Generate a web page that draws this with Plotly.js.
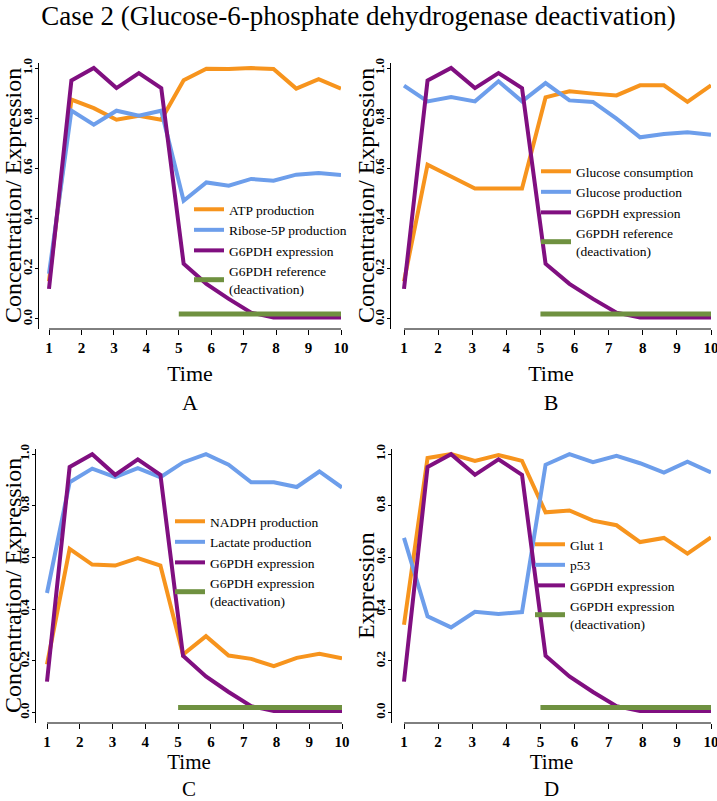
<!DOCTYPE html>
<html>
<head>
<meta charset="utf-8">
<script src="https://cdn.plot.ly/plotly-3.0.1.min.js"></script>
<style>html,body{margin:0;padding:0;background:#fff}#chart{width:717px;height:801px}</style>
</head>
<body>
<div id="chart"></div>
<script>
// ---- data ----
const time = [1, 1.69, 2.38, 3.08, 3.77, 4.46, 5.15, 5.85, 6.54, 7.23, 7.92, 8.62, 9.31, 10];
const g6pdh = [0.12, 0.95, 1.0, 0.92, 0.98, 0.92, 0.22, 0.14, 0.08, 0.025, 0.006, 0.006, 0.006, 0.006];
const refTime = [5, 10];
const refLevel = [0.02, 0.02];

const atp = [0.15, 0.874, 0.84, 0.794, 0.81, 0.794, 0.951, 0.997, 0.996, 1.0, 0.996, 0.918, 0.956, 0.918];
const ribose = [0.18, 0.83, 0.774, 0.83, 0.81, 0.83, 0.471, 0.544, 0.531, 0.558, 0.551, 0.575, 0.582, 0.574];
const glucoseCons = [0.15, 0.615, 0.568, 0.52, 0.52, 0.52, 0.883, 0.907, 0.898, 0.891, 0.931, 0.931, 0.865, 0.931];
const glucoseProd = [0.93, 0.867, 0.884, 0.867, 0.947, 0.867, 0.94, 0.871, 0.865, 0.798, 0.724, 0.737, 0.744, 0.734];
const nadph = [0.187, 0.634, 0.573, 0.569, 0.598, 0.569, 0.225, 0.296, 0.221, 0.208, 0.18, 0.212, 0.228, 0.21];
const lactate = [0.463, 0.891, 0.944, 0.911, 0.946, 0.911, 0.968, 1.0, 0.959, 0.891, 0.891, 0.873, 0.933, 0.871];
const glut1 = [0.34, 0.985, 1.0, 0.974, 0.997, 0.974, 0.775, 0.782, 0.743, 0.725, 0.66, 0.676, 0.615, 0.678];
const p53 = [0.676, 0.373, 0.33, 0.39, 0.382, 0.389, 0.959, 1.0, 0.969, 0.994, 0.965, 0.929, 0.971, 0.929];

const panelLetters = ['A', 'B', 'C', 'D'];
const xTicks = [1, 2, 3, 4, 5, 6, 7, 8, 9, 10];
const yTicks = [0, 0.2, 0.4, 0.6, 0.8, 1.0];
const yTickText = ['0.0', '0.2', '0.4', '0.6', '0.8', '1.0'];
const timeStart = 1, timeEnd = 10;

const panels = [
  {a: atp, aName: 'ATP production', b: ribose, bName: 'Ribose-5P production',
   refName: 'G6PDH reference<br>(deactivation)', yTitle: 'Concentration/ Expression'},
  {a: glucoseCons, aName: 'Glucose consumption', b: glucoseProd, bName: 'Glucose production',
   refName: 'G6PDH reference<br>(deactivation)', yTitle: 'Concentration/ Expression'},
  {a: nadph, aName: 'NADPH production', b: lactate, bName: 'Lactate production',
   refName: 'G6PDH expression<br>(deactivation)', yTitle: 'Concentration/ Expression'},
  {a: glut1, aName: 'Glut 1', b: p53, bName: 'p53',
   refName: 'G6PDH expression<br>(deactivation)', yTitle: 'Expression'}
];

// ---- styling ----
const W = 717, H = 801;
const ORANGE = '#F7941D', BLUE = '#6D9EEB', PURPLE = '#800F80', GREEN = '#6F9140';
const SERIF = 'Liberation Serif, Times New Roman, serif';

// pixel geometry: yl = y-axis line, x0/x1 = where time 1 and 10 fall, top/bot = plot area
const geom = [
  {yl: 39, x0: 49, x1: 341, top: 63, bot: 329, yt: 13, lx: 189, ly: 194, so: 10, fs: 22},
  {yl: 391, x0: 404, x1: 711, top: 63, bot: 329, yt: 366, lx: 536, ly: 156, so: 10, fs: 22},
  {yl: 36, x0: 47, x1: 342, top: 449, bot: 723, yt: 13, lx: 170, ly: 506, so: 5, fs: 21},
  {yl: 392, x0: 404, x1: 711, top: 449, bot: 723, yt: 366, lx: 530, ly: 529, so: 5, fs: 21}
];

const data = [];
const layout = {
  width: W, height: H,
  margin: {l: 0, r: 0, t: 0, b: 0},
  paper_bgcolor: '#fff', plot_bgcolor: '#fff',
  font: {family: SERIF, color: '#000'},
  title: {text: 'Case 2 (Glucose-6-phosphate dehydrogenase deactivation)',
          font: {family: SERIF, size: 27, color: '#000'},
          x: 0.5, xanchor: 'center', y: 1 - 16 / H, yanchor: 'middle'},
  annotations: [],
  shapes: []
};

panels.forEach((p, i) => {
  const g = geom[i];
  const n = i + 1;
  const xa = n === 1 ? 'x' : 'x' + n;
  const ya = n === 1 ? 'y' : 'y' + n;
  const lg = n === 1 ? 'legend' : 'legend' + n;
  const common = {type: 'scatter', mode: 'lines', xaxis: xa, yaxis: ya, legend: lg, hoverinfo: 'skip'};
  data.push(Object.assign({}, common, {x: time, y: p.a, name: p.aName, line: {color: ORANGE, width: 4}}));
  data.push(Object.assign({}, common, {x: time, y: p.b, name: p.bName, line: {color: BLUE, width: 4}}));
  data.push(Object.assign({}, common, {x: time, y: g6pdh, name: 'G6PDH expression', line: {color: PURPLE, width: 4}}));
  data.push(Object.assign({}, common, {x: refTime, y: refLevel, name: p.refName, line: {color: GREEN, width: 5}}));

  // x range starts a little before time 1 so the y-axis stands apart from the data (R style)
  const pxPerUnit = (g.x1 - g.x0) / (timeEnd - timeStart);
  const xMin = timeStart - (g.x0 - g.yl) / pxPerUnit;

  layout['xaxis' + (n === 1 ? '' : n)] = {
    domain: [g.yl / W, g.x1 / W], anchor: ya, range: [xMin, timeEnd],
    showgrid: false, zeroline: false, showline: false,
    ticks: 'outside', ticklen: 5, tickcolor: '#000', tickwidth: 1,
    tickmode: 'array', tickvals: xTicks, ticklabeloverflow: 'allow',
    tickfont: {family: SERIF, size: 15, color: '#000', weight: 'bold'},
    title: {text: 'Time<br>' + panelLetters[i], font: {family: SERIF, size: g.fs, color: '#000'}, standoff: g.so}
  };
  layout['yaxis' + (n === 1 ? '' : n)] = {
    domain: [1 - g.bot / H, 1 - g.top / H], anchor: xa, side: 'left',
    range: [-0.04, 1.02],
    showgrid: false, zeroline: false, showline: true, linecolor: '#000', linewidth: 1,
    ticks: 'outside', ticklen: 3, tickcolor: '#000', tickwidth: 1,
    tickmode: 'array', tickvals: yTicks, ticktext: yTickText, tickangle: -90, ticklabelstandoff: -2,
    tickfont: {family: SERIF, size: 13, color: '#000', weight: 'bold'}
  };
  // x-axis line running only from the first to the last time tick
  layout.shapes.push({
    type: 'line', xref: xa, yref: ya + ' domain', x0: timeStart, x1: timeEnd, y0: 0, y1: 0,
    line: {color: '#000', width: 1}, layer: 'above'
  });
  layout[lg] = {
    x: g.lx / W, xanchor: 'left', y: 1 - g.ly / H, yanchor: 'top',
    bgcolor: 'rgba(0,0,0,0)', borderwidth: 0,
    font: {family: SERIF, size: 13.5, color: '#000'},
    itemwidth: 30, tracegroupgap: 0
  };
  // y-axis title beside the tick labels
  layout.annotations.push({
    text: p.yTitle, xref: 'paper', yref: 'paper', textangle: -90,
    x: g.yt / W, y: 1 - (g.top + g.bot) / 2 / H, xanchor: 'center', yanchor: 'middle',
    showarrow: false, font: {family: SERIF, size: 24, color: '#000'}
  });
});

Plotly.newPlot('chart', data, layout, {displayModeBar: false, staticPlot: true});
</script>
</body>
</html>
